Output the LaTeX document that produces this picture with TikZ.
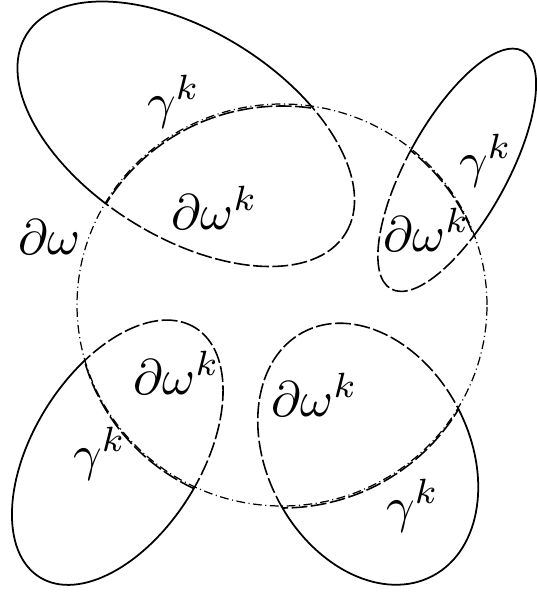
\documentclass[tikz,border=0pt]{standalone}

\begin{document}
\begin{tikzpicture}[x=0.02cm, y=0.02cm,
  every node/.style={scale=2.85, inner sep=0pt, anchor=base west},
  bnd/.style={line width=1pt},
  inn/.style={line width=0.9pt, dash pattern=on 9pt off 2pt},
  dom/.style={line width=0.7pt, dash pattern=on 5pt off 2pt on 0.6pt off 2pt}]

\useasboundingbox (0,0) rectangle (537,593);

%% ---- centres ----
\coordinate (O)   at (282,288);
\coordinate (OD)  at (282,286);
\coordinate (CTL) at (186,459);
\coordinate (CTR) at (457,423);
\coordinate (CBL) at (117.5,140.5);
\coordinate (CBR) at (368,139);

%% ---- outer parts of the ellipses (solid) ----
\foreach \c/\a/\b/\r in {CTL/188/103/-32, CTR/136/50/61, CBL/147/84/58, CBR/138/101/-62}
  \draw[bnd] (\c) ellipse[x radius=\a, y radius=\b, rotate=\r];
\fill[white] (O) ellipse[x radius=205, y radius=201];

%% ---- inner parts (dashed) ----
\begin{scope}
  \clip (O) ellipse[x radius=205, y radius=201];
  \foreach \c/\a/\b/\r in {CTL/188/103/-32, CTR/136/50/61, CBL/147/84/58, CBR/138/101/-62}
    \draw[inn] (\c) ellipse[x radius=\a, y radius=\b, rotate=\r];
\end{scope}
\foreach \c/\a/\b/\r in {CTL/188/103/-32, CTR/136/50/61, CBL/147/84/58, CBR/138/101/-62}{
  \begin{scope}
    \clip (\c) ellipse[x radius=\a, y radius=\b, rotate=\r];
    \draw[inn] (OD) ellipse[x radius=205, y radius=201];
  \end{scope}
}

%% ---- domain boundary ----
\draw[dom] (O) ellipse[x radius=205, y radius=201];

%% ---- labels ----
\node (DW)  at (17,339)  {$\partial\omega$};
\node (GTL) at (146,475) {$\gamma^k$};
\node (WTL) at (170,364) {$\partial\omega^k$};
\node (GTR) at (458,416) {$\gamma^k$};
\node (WTR) at (382,342) {$\partial\omega^k$};
\node (WBL) at (132,199) {$\partial\omega^k$};
\node (GBL) at (72,123)  {$\gamma^k$};
\node (WBR) at (270,177) {$\partial\omega^k$};
\node (GBR) at (385,71)  {$\gamma^k$};
\end{tikzpicture}
\end{document}
